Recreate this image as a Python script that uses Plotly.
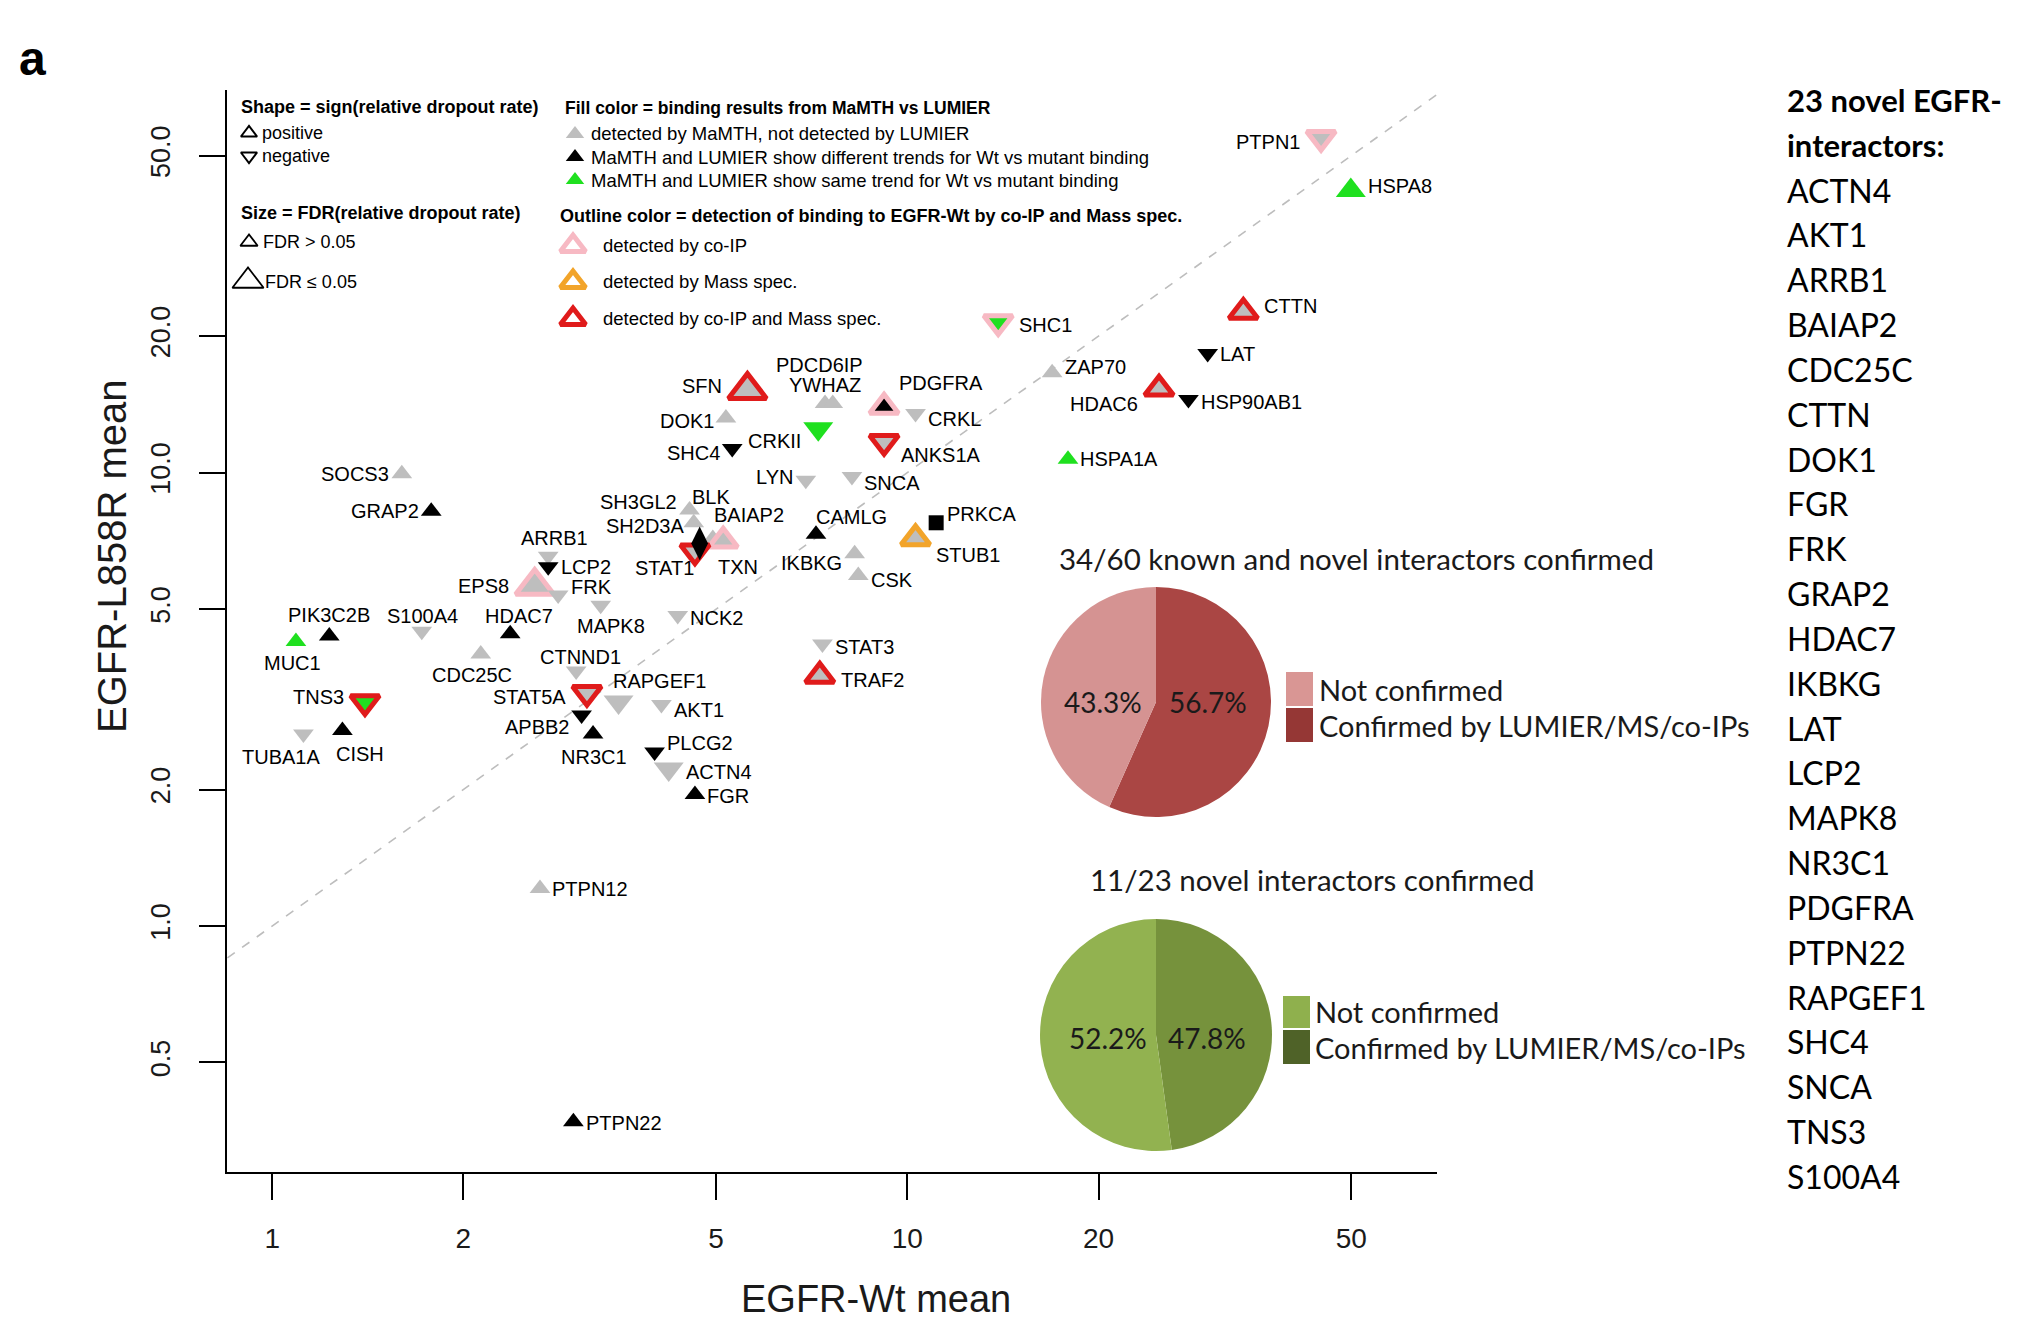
import math
import plotly.graph_objects as go

# ---------------- data ----------------
GENES = ["PTPN1", "HSPA8", "CTTN", "LAT", "HDAC6", "HSP90AB1", "SHC1", "ZAP70", "HSPA1A",
         "ANKS1A", "PDGFRA", "CRKL", "YWHAZ", "PDCD6IP", "CRKII", "SFN", "DOK1", "SHC4",
         "LYN", "SNCA", "CAMLG", "PRKCA", "STUB1", "IKBKG", "CSK", "SH3GL2", "BLK",
         "BAIAP2", "TXN", "STAT1", "SH2D3A", "EPS8", "ARRB1", "LCP2", "FRK", "MAPK8",
         "NCK2", "HDAC7", "S100A4", "CDC25C", "PIK3C2B", "MUC1", "TNS3", "CISH", "TUBA1A",
         "CTNND1", "STAT5A", "RAPGEF1", "AKT1", "APBB2", "NR3C1", "PLCG2", "ACTN4", "FGR",
         "STAT3", "TRAF2", "SOCS3", "GRAP2", "PTPN12", "PTPN22"]
WT_MEAN = [44.8, 49.9, 33.8, 29.7, 24.9, 27.7, 13.9, 16.9, 17.9,
           9.19, 9.19, 10.3, 7.42, 7.63, 7.24, 5.60, 5.18, 5.30,
           6.92, 8.18, 7.18, 11.1, 10.3, 8.26, 8.37, 4.54, 4.61,
           4.94, 5.13, 4.63, 4.71, 2.59, 2.72, 2.72, 2.82, 3.29,
           4.35, 2.37, 1.72, 2.13, 1.23, 1.09, 1.40, 1.29, 1.12,
           3.01, 3.13, 3.51, 4.10, 3.07, 3.20, 4.00, 4.21, 4.63,
           7.35, 7.28, 1.60, 1.78, 2.64, 2.98]
L858R_MEAN = [54.8, 41.9, 22.6, 18.3, 15.3, 14.5, 21.5, 16.6, 10.7,
              11.7, 13.96, 13.5, 14.2, 14.2, 12.5, 15.2, 13.2, 11.3,
              9.62, 9.80, 7.31, 7.75, 7.16, 6.62, 5.93, 8.27, 7.75,
              7.16, 7.07, 6.71, 6.98, 5.62, 6.54, 6.20, 5.37, 5.10,
              4.84, 4.41, 4.47, 3.98, 4.36, 4.24, 3.12, 2.70, 2.65,
              3.65, 3.27, 3.12, 3.08, 2.92, 2.65, 2.42, 2.22, 1.95,
              4.19, 3.56, 9.94, 8.22, 1.21, 0.370]
SHAPE = ["down", "up", "up", "down", "up", "down", "down", "up", "up",
         "down", "up", "down", "up", "up", "down", "up", "up", "down",
         "down", "down", "up", "square", "up", "up", "up", "up", "up",
         "up", "up", "down", "diamond", "up", "down", "down", "down", "down",
         "down", "up", "down", "up", "up", "up", "down", "up", "down",
         "down", "down", "down", "down", "down", "up", "down", "down", "up",
         "down", "up", "up", "up", "up", "up"]
FILL = ["gray", "green", "gray", "black", "gray", "black", "green", "gray", "green",
        "gray", "black", "gray", "gray", "gray", "green", "gray", "gray", "black",
        "gray", "gray", "black", "black", "gray", "gray", "gray", "gray", "gray",
        "gray", "gray", "gray", "black", "gray", "gray", "black", "gray", "gray",
        "gray", "black", "gray", "gray", "black", "green", "green", "black", "gray",
        "gray", "gray", "gray", "gray", "black", "black", "black", "gray", "black",
        "gray", "gray", "gray", "black", "gray", "black"]
OUTLINE = ["pink", "none", "red", "none", "red", "none", "pink", "none", "none",
           "red", "pink", "none", "none", "none", "none", "red", "none", "none",
           "none", "none", "none", "none", "orange", "none", "none", "none", "none",
           "none", "pink", "red", "none", "pink", "none", "none", "none", "none",
           "none", "none", "none", "none", "none", "none", "red", "none", "none",
           "none", "red", "none", "none", "none", "none", "none", "none", "none",
           "none", "red", "none", "none", "none", "none"]
FDR_SIG = [False, True, False, False, False, False, False, False, False,
           False, False, False, False, False, True, True, False, False,
           False, False, False, False, False, False, False, False, False,
           False, False, False, False, True, False, False, False, False,
           False, False, False, False, False, False, False, False, False,
           False, False, True, False, False, False, False, True, False,
           False, False, False, False, False, False]

X_TICKS = [1, 2, 5, 10, 20, 50]
X_TICKTEXT = ["1", "2", "5", "10", "20", "50"]
Y_TICKS = [0.5, 1, 2, 5, 10, 20, 50]
Y_TICKTEXT = ["0.5", "1.0", "2.0", "5.0", "10.0", "20.0", "50.0"]

PIE_LABELS = ["Confirmed by LUMIER/MS/co-IPs", "Not confirmed"]
PIE_ALL_COUNTS = [34, 26]
PIE_NOVEL_COUNTS = [11, 12]
PIE_ALL_TITLE = "34/60 known and novel interactors confirmed"
PIE_NOVEL_TITLE = "11/23 novel interactors confirmed"

NOVEL_HEADER = ["23 novel EGFR-", "interactors:"]
NOVEL_INTERACTORS = ["ACTN4", "AKT1", "ARRB1", "BAIAP2", "CDC25C", "CTTN", "DOK1", "FGR",
                     "FRK", "GRAP2", "HDAC7", "IKBKG", "LAT", "LCP2", "MAPK8", "NR3C1",
                     "PDGFRA", "PTPN22", "RAPGEF1", "SHC4", "SNCA", "TNS3", "S100A4"]

# ---------------- styles ----------------
SANS = "Liberation Sans, Arial, sans-serif"
CALIBRI = "Lato, Carlito, Calibri, sans-serif"
FILL_COLORS = {"gray": "#BEBEBE", "black": "#000000", "green": "#1FE01F"}
OUTLINE_COLORS = {"pink": "#F7B9C3", "orange": "#F2A42A", "red": "#E01B1B"}
SYMBOLS = {"up": "triangle-up", "down": "triangle-down", "diamond": "diamond-tall", "square": "square"}
PIE_ALL_COLORS = ["#AA4644", "#D59392"]
PIE_ALL_LEGEND = ["#953735", "#D99694"]
PIE_NOVEL_COLORS = ["#76923C", "#92B250"]
PIE_NOVEL_LEGEND = ["#4F6228", "#8FB04D"]

# label placement: side ('l','r','c'), dx, dy (px, dy positive = downward)
LABEL_LAYOUT = {
    "PTPN1": ("l", 0, 4), "HSPA8": ("r", 0, -4), "CTTN": ("r", 0, -6), "LAT": ("r", 0, 0),
    "HDAC6": ("l", 0, 15), "HSP90AB1": ("r", 0, 3), "SHC1": ("r", 0, 3), "ZAP70": ("r", 0, -6),
    "HSPA1A": ("r", 0, 0), "PDGFRA": ("r", -6, -24), "ANKS1A": ("r", -4, 13), "CRKL": ("r", 0, 5),
    "YWHAZ": ("c", 0, -19), "PDCD6IP": ("c", -13, -39), "CRKII": ("l", 0, 12), "SFN": ("l", 0, -4),
    "DOK1": ("l", 0, 3), "SHC4": ("l", 0, 4), "LYN": ("l", 0, -3), "SNCA": ("r", 0, 6),
    "CAMLG": ("c", 36, -17), "PRKCA": ("r", 0, -9), "STUB1": ("r", 0, 17), "IKBKG": ("l", 0, 9),
    "CSK": ("r", 0, 4), "SH3GL2": ("l", 0, -8), "BLK": ("c", 17, -26), "SH2D3A": ("l", 0, -17),
    "BAIAP2": ("c", 36, -23), "TXN": ("c", 15, 26), "STAT1": ("c", -30, 17), "ARRB1": ("c", 6, -18),
    "LCP2": ("r", 0, 0), "EPS8": ("l", 0, 0), "FRK": ("r", 0, -8), "MAPK8": ("c", 10, 21),
    "NCK2": ("r", 0, 3), "HDAC7": ("c", 9, -18), "S100A4": ("c", 1, -15), "CDC25C": ("c", -9, 21),
    "PIK3C2B": ("c", 0, -21), "MUC1": ("c", -3, 21), "TNS3": ("l", 0, -5), "CISH": ("c", 18, 24),
    "TUBA1A": ("c", -22, 23), "CTNND1": ("c", 4, -14), "STAT5A": ("l", 0, 4), "RAPGEF1": ("c", 41, -21),
    "AKT1": ("r", 0, 6), "APBB2": ("l", 0, 12), "NR3C1": ("c", 1, 23), "PLCG2": ("r", 0, -9),
    "ACTN4": ("r", 0, 3), "FGR": ("r", 0, 1), "STAT3": ("r", 0, 3), "TRAF2": ("r", 0, 4),
    "SOCS3": ("l", 0, 0), "GRAP2": ("l", 0, 0), "PTPN12": ("r", 0, 1), "PTPN22": ("r", 0, 1),
}

# ---------------- geometry (page px; the page body has an 8 px margin) ----------------
BODY = 8
PL, PT, PW, PH = 227, 90, 1210, 1082          # plot area in page pixels
W_FIG, H_FIG = 2020 - 2 * BODY, 1328 - 2 * BODY


def fx(px):
    return (px - PL) / PW


def fy(py):
    return (PT + PH - py) / PH


def marker_size(shape, sig, outline):
    if shape == "diamond":
        return 24
    if shape == "square":
        return 15
    s = 26 if sig else 18
    if outline != "none":
        s += 7
    return s


sizes, lws, colors, lcolors, symbols = [], [], [], [], []
for sh, fl, ol, sg in zip(SHAPE, FILL, OUTLINE, FDR_SIG):
    sizes.append(marker_size(sh, sg, ol))
    lws.append(5 if ol != "none" else 0)
    colors.append(FILL_COLORS[fl])
    lcolors.append(OUTLINE_COLORS.get(ol, FILL_COLORS[fl]))
    symbols.append(SYMBOLS[sh])

fig = go.Figure()

# y = x reference line
fig.add_trace(go.Scatter(x=[0.5, 100], y=[0.5, 100], mode="lines",
                         line=dict(color="#BDBDBD", width=1.6, dash="dash"),
                         hoverinfo="skip"))

fig.add_trace(go.Scatter(
    x=WT_MEAN, y=L858R_MEAN, mode="markers", text=GENES,
    marker=dict(symbol=symbols, size=sizes, color=colors, opacity=1,
                line=dict(color=lcolors, width=lws)),
))

annotations = []
for g, x, y, s, w in zip(GENES, WT_MEAN, L858R_MEAN, sizes, lws):
    side, dx, dy = LABEL_LAYOUT[g]
    hw = 0.577 * s + 0.87 * w
    if side == "r":
        xa, xs = "left", hw + 1 + dx
    elif side == "l":
        xa, xs = "right", -(hw + 1) + dx
    else:
        xa, xs = "center", dx
    annotations.append(dict(x=math.log10(x), y=math.log10(y), xref="x", yref="y",
                            text=g, showarrow=False, xanchor=xa, yanchor="middle",
                            xshift=xs, yshift=-dy, borderpad=0,
                            font=dict(family=SANS, size=20, color="black")))


def note(text, px, py, size, xanchor="left", bold=False, family=SANS, color="black", angle=0):
    annotations.append(dict(text=f"<b>{text}</b>" if bold else text, x=fx(px), y=fy(py),
                            xref="paper", yref="paper", xanchor=xanchor, yanchor="middle",
                            showarrow=False, borderpad=0, textangle=angle,
                            font=dict(size=size, family=family, color=color)))


# ---------------- legend block ----------------
note("Shape = sign(relative dropout rate)", 240, 107, 18, bold=True)
note("positive", 261, 133, 18)
note("negative", 261, 156, 18)
note("Size = FDR(relative dropout rate)", 240, 213, 18, bold=True)
note("FDR > 0.05", 262, 242, 18)
note("FDR \u2264 0.05", 264, 282, 18)
note("Fill color = binding results from MaMTH vs LUMIER", 564, 108, 17.5, bold=True)
note("detected by MaMTH, not detected by LUMIER", 590, 134, 18.5)
note("MaMTH and LUMIER show different trends for Wt vs mutant binding", 590, 157, 18.5)
note("MaMTH and LUMIER show same trend for Wt vs mutant binding", 590, 180, 18.5)
note("Outline color = detection of binding to EGFR-Wt by co-IP and Mass spec.", 559, 216, 18, bold=True)
note("detected by co-IP", 602, 245, 18.5)
note("detected by Mass spec.", 602, 281, 18.5)
note("detected by co-IP and Mass spec.", 602, 318, 18.5)

LEG_GLYPHS = [  # (px, py, symbol, size, fill, line color, line width)
    (249, 133, "triangle-up-open", 14, "black", "black", 2),
    (249, 156, "triangle-down-open", 14, "black", "black", 2),
    (249, 242, "triangle-up-open", 15, "black", "black", 1.8),
    (248, 281, "triangle-up-open", 27, "black", "black", 1.8),
    (575, 134, "triangle-up", 16, FILL_COLORS["gray"], FILL_COLORS["gray"], 0),
    (575, 157, "triangle-up", 16, FILL_COLORS["black"], FILL_COLORS["black"], 0),
    (575, 180, "triangle-up", 16, FILL_COLORS["green"], FILL_COLORS["green"], 0),
    (573, 246, "triangle-up", 22, "white", OUTLINE_COLORS["pink"], 5),
    (573, 282, "triangle-up", 22, "white", OUTLINE_COLORS["orange"], 5),
    (573, 319, "triangle-up", 22, "white", OUTLINE_COLORS["red"], 5),
]
fig.add_trace(go.Scatter(
    x=[fx(g[0]) for g in LEG_GLYPHS], y=[fy(g[1]) for g in LEG_GLYPHS],
    xaxis="x2", yaxis="y2", mode="markers", hoverinfo="skip",
    marker=dict(symbol=[g[2] for g in LEG_GLYPHS], size=[g[3] for g in LEG_GLYPHS],
                color=[g[4] for g in LEG_GLYPHS], opacity=1,
                line=dict(color=[g[5] for g in LEG_GLYPHS], width=[g[6] for g in LEG_GLYPHS]))))

# ---------------- pies ----------------
def pie_domain(cx, cy, r):
    return dict(x=[fx(cx - r), fx(cx + r)], y=[fy(cy + r), fy(cy - r)])


fig.add_trace(go.Pie(values=PIE_ALL_COUNTS, labels=PIE_LABELS, sort=False, direction="clockwise",
                     rotation=0, textinfo="none", hoverinfo="label+percent",
                     marker=dict(colors=PIE_ALL_COLORS, line=dict(width=0)),
                     domain=pie_domain(1156, 702, 115), showlegend=False))
fig.add_trace(go.Pie(values=PIE_NOVEL_COUNTS, labels=PIE_LABELS, sort=False, direction="clockwise",
                     rotation=0, textinfo="none", hoverinfo="label+percent",
                     marker=dict(colors=PIE_NOVEL_COLORS, line=dict(width=0)),
                     domain=pie_domain(1156, 1035, 116), showlegend=False))


def pct(vals, i):
    return f"{vals[i] / sum(vals) * 100:.1f}%"


note(pct(PIE_ALL_COUNTS, 1), 1103, 702, 28, xanchor="center", family=CALIBRI, color="#1a1a1a")
note(pct(PIE_ALL_COUNTS, 0), 1208, 702, 28, xanchor="center", family=CALIBRI, color="#1a1a1a")
note(pct(PIE_NOVEL_COUNTS, 1), 1108, 1038, 28, xanchor="center", family=CALIBRI, color="#1a1a1a")
note(pct(PIE_NOVEL_COUNTS, 0), 1207, 1038, 28, xanchor="center", family=CALIBRI, color="#1a1a1a")
note(PIE_ALL_TITLE, 1356, 558, 29.5, xanchor="center", family=CALIBRI, color="#1a1a1a")
note(PIE_NOVEL_TITLE, 1312, 879, 29.5, xanchor="center", family=CALIBRI, color="#1a1a1a")

shapes = []


def legend_box(x0, y0, x1, y1, color):
    shapes.append(dict(type="rect", xref="paper", yref="paper", x0=fx(x0), x1=fx(x1),
                       y0=fy(y1), y1=fy(y0), fillcolor=color, line=dict(width=0)))


legend_box(1286, 672, 1313, 706, PIE_ALL_LEGEND[1])
legend_box(1286, 708, 1313, 742, PIE_ALL_LEGEND[0])
note(PIE_LABELS[1], 1318, 689, 29, family=CALIBRI, color="#1a1a1a")
note(PIE_LABELS[0], 1318, 725, 29, family=CALIBRI, color="#1a1a1a")
legend_box(1283, 996, 1310, 1028, PIE_NOVEL_LEGEND[1])
legend_box(1283, 1030, 1310, 1064, PIE_NOVEL_LEGEND[0])
note(PIE_LABELS[1], 1314, 1011, 29, family=CALIBRI, color="#1a1a1a")
note(PIE_LABELS[0], 1314, 1047, 29, family=CALIBRI, color="#1a1a1a")

# ---------------- right list ----------------
lines = NOVEL_HEADER + NOVEL_INTERACTORS
for i, t in enumerate(lines):
    hdr = i < len(NOVEL_HEADER)
    note(t, 1786, 100.5 + 44.83 * i, 31 if hdr else 32, bold=hdr, family=CALIBRI, color="black")

# ---------------- panel letter & axis titles ----------------
note("a", 32, 58, 48, xanchor="center", bold=True, family=SANS)
note("EGFR-Wt mean", 876, 1299, 38, xanchor="center", family=SANS, color="#1a1a1a")
note("EGFR-L858R mean", 112, 557, 40, xanchor="center", family=SANS, color="#1a1a1a", angle=-90)

fig.update_layout(
    width=W_FIG, height=H_FIG,
    margin=dict(l=PL - BODY, r=W_FIG - (PL - BODY) - PW, t=PT - BODY, b=H_FIG - (PT - BODY) - PH),
    paper_bgcolor="white", plot_bgcolor="white", showlegend=False,
    annotations=annotations, shapes=shapes,
    xaxis=dict(type="log", range=[math.log10(0.849), math.log10(68.2)],
               tickvals=X_TICKS, ticktext=X_TICKTEXT, ticks="outside", ticklen=26,
               tickwidth=2, tickcolor="black", showline=True, linecolor="black", linewidth=2,
               showgrid=False, zeroline=False, ticklabelstandoff=14,
               tickfont=dict(family=SANS, size=28, color="#1a1a1a")),
    yaxis=dict(type="log", range=[math.log10(0.2867), math.log10(69.8)],
               tickvals=Y_TICKS, ticktext=Y_TICKTEXT, ticks="outside", ticklen=26,
               tickwidth=2, tickcolor="black", showline=True, linecolor="black", linewidth=2,
               showgrid=False, zeroline=False, tickangle=-90, ticklabelstandoff=18,
               tickfont=dict(family=SANS, size=27, color="#1a1a1a")),
    xaxis2=dict(overlaying="x", range=[0, 1], visible=False, anchor="y2"),
    yaxis2=dict(overlaying="y", range=[0, 1], visible=False, anchor="x2"),
)

fig.write_html("out.html")
